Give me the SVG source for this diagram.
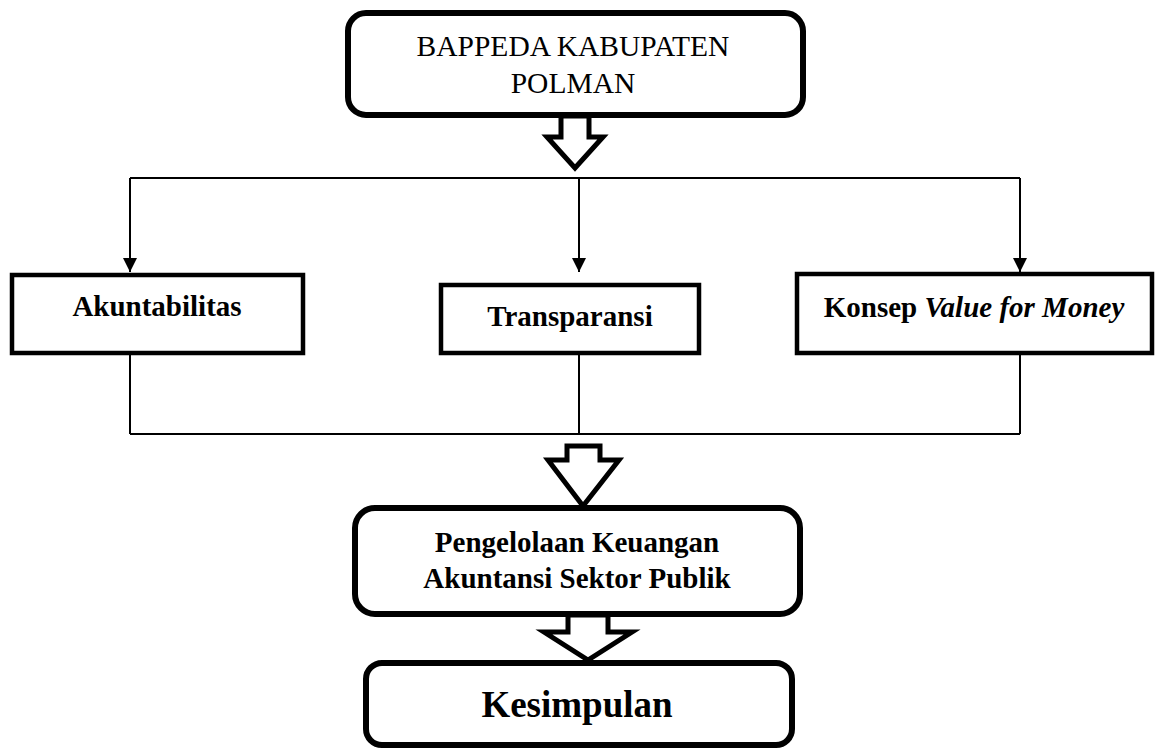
<svg xmlns="http://www.w3.org/2000/svg" width="1159" height="749" viewBox="0 0 1159 749">
<style>
.rbox{fill:#fff;stroke:#000;stroke-width:6}
.box{fill:#fff;stroke:#000;stroke-width:4.5}
.t{font-family:"Liberation Serif","Times New Roman",serif;fill:#000;text-anchor:middle}
.b{font-weight:bold}
.ln{fill:none;stroke:#000;stroke-width:2}
.big{fill:#fff;stroke:#000;stroke-width:5;stroke-linejoin:miter}
</style>
<defs>
<marker id="ah" viewBox="0 0 10 10" refX="10" refY="5" markerWidth="15" markerHeight="14" markerUnits="userSpaceOnUse" orient="auto">
<path d="M0,0 L10,5 L0,10 Z" fill="#000"/>
</marker>
</defs>
<rect width="1159" height="749" fill="#fff"/>
<g id="connectors">
<polygon class="big" points="561,116 589,116 589,137 603,137 575,168 547,137 561,137"/>
<path class="ln" d="M130,178 H1020"/>
<path class="ln" d="M130,178 V272" marker-end="url(#ah)"/>
<path class="ln" d="M579,178 V272" marker-end="url(#ah)"/>
<path class="ln" d="M1020,178 V272" marker-end="url(#ah)"/>
<path class="ln" d="M130,355 V434 M579,355 V434 M1020,355 V434 M130,434 H1020"/>
<polygon class="big" points="567,446 600,446 600,460 619,460 583,506 548,460 567,460"/>
<polygon class="big" points="568,615 608,615 608,632 632,632 588,660 544,632 568,632"/>
</g>
<g id="bappeda">
<rect class="rbox" x="348" y="13" width="455" height="102" rx="18"/>
<text class="t" x="573" y="56" font-size="29.5">BAPPEDA KABUPATEN</text>
<text class="t" x="573" y="93" font-size="29.5">POLMAN</text>
</g>
<g id="akuntabilitas">
<rect class="box" x="12" y="275" width="291" height="78"/>
<text class="t b" x="157" y="316" font-size="29">Akuntabilitas</text>
</g>
<g id="transparansi">
<rect class="box" x="441" y="285" width="258" height="68"/>
<text class="t b" x="570" y="326" font-size="29">Transparansi</text>
</g>
<g id="konsep">
<rect class="box" x="797" y="274" width="355" height="79"/>
<text class="t b" x="974" y="317" font-size="29">Konsep <tspan font-style="italic">Value for Money</tspan></text>
</g>
<g id="pengelolaan">
<rect class="rbox" x="355" y="508" width="445" height="106" rx="20"/>
<text class="t b" x="577" y="552" font-size="29">Pengelolaan Keuangan</text>
<text class="t b" x="577" y="588" font-size="29">Akuntansi Sektor Publik</text>
</g>
<g id="kesimpulan">
<rect class="rbox" x="366" y="663" width="426" height="82" rx="16"/>
<text class="t b" x="577" y="717" font-size="37">Kesimpulan</text>
</g>
</svg>
